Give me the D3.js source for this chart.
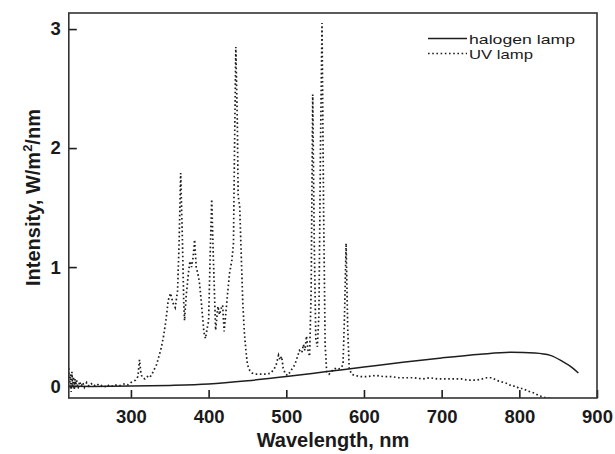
<!DOCTYPE html>
<html>
<head>
<meta charset="utf-8">
<script src="https://cdn.jsdelivr.net/npm/d3@7"></script>
<style>
  html, body { margin: 0; padding: 0; background: #fff; }
  svg { display: block; }
  text { font-family: "Liberation Sans", Arial, Helvetica, sans-serif; fill: #1a1a1a; }
</style>
</head>
<body>
<svg id="chart" width="615" height="454"></svg>
<script>
// ---- data ----
const halogenWavelength = [220, 250, 300, 350, 400, 450, 500, 550, 600, 650, 700, 750, 790, 820, 840, 856, 868, 876];
const halogenIntensity  = [0.0, -0.003, 0.0, 0.006, 0.018, 0.045, 0.08, 0.12, 0.16, 0.2, 0.237, 0.268, 0.284, 0.278, 0.258, 0.205, 0.155, 0.11];

const uvWavelength = [220, 221, 222, 223, 224, 225, 226, 227, 228, 229, 230, 232, 234, 236, 238, 240, 243, 246, 249, 252, 256, 260, 264, 268, 272, 276, 280, 284, 288, 292, 296, 300, 303, 306, 309, 311, 313, 315, 318, 321, 324, 327, 330, 333, 336, 339, 342, 345, 348, 351, 354, 357, 360, 362, 364, 366, 368, 369, 371, 374, 376, 378, 380, 382, 384, 386, 388, 390, 392, 394, 396, 398, 400, 402, 404, 406, 409, 412, 414, 416, 418, 420, 422, 424, 427, 430, 432, 433, 435, 437, 438, 440, 442, 444, 446, 448, 450, 453, 456, 460, 465, 470, 475, 480, 484, 487, 490, 492, 494, 496, 499, 502, 505, 508, 511, 514, 517, 520, 522, 524, 526, 528, 530, 532, 534, 536, 538, 540, 542, 544, 546, 548, 550, 552, 555, 558, 562, 566, 570, 573, 575, 577, 579, 581, 584, 588, 595, 605, 615, 625, 635, 645, 655, 665, 675, 685, 695, 705, 715, 725, 735, 745, 752, 758, 765, 770, 775, 780, 785, 790, 795, 800, 805, 810, 815, 820, 825, 830, 835, 840];
const uvIntensity  = [0.15, 0.02, 0.1, -0.05, 0.12, 0.0, 0.08, -0.03, 0.06, 0.01, 0.05, -0.02, 0.04, 0.0, 0.03, -0.01, 0.03, 0.0, 0.02, 0.0, 0.02, 0.0, 0.01, -0.01, 0.01, 0.0, 0.01, 0.0, 0.01, 0.02, 0.01, 0.03, 0.04, 0.05, 0.08, 0.22, 0.1, 0.07, 0.06, 0.08, 0.07, 0.1, 0.14, 0.18, 0.25, 0.32, 0.42, 0.55, 0.72, 0.78, 0.7, 0.66, 0.8, 1.2, 1.79, 1.3, 0.7, 0.55, 0.75, 0.95, 1.05, 1.0, 1.08, 1.23, 1.0, 0.95, 0.88, 0.75, 0.6, 0.45, 0.4, 0.48, 0.55, 1.1, 1.57, 1.1, 0.47, 0.67, 0.6, 0.65, 0.68, 0.46, 0.6, 0.75, 0.95, 1.06, 1.2, 1.8, 2.85, 2.2, 1.6, 1.51, 1.1, 0.7, 0.45, 0.3, 0.18, 0.13, 0.11, 0.1, 0.1, 0.1, 0.1, 0.11, 0.14, 0.18, 0.26, 0.22, 0.25, 0.15, 0.1, 0.09, 0.12, 0.15, 0.18, 0.24, 0.3, 0.28, 0.35, 0.3, 0.42, 0.3, 0.25, 0.8, 2.45, 1.2, 0.4, 0.33, 0.6, 2.0, 3.05, 1.5, 0.35, 0.12, 0.1, 0.12, 0.15, 0.14, 0.15, 0.18, 0.6, 1.2, 0.5, 0.15, 0.1, 0.09, 0.08, 0.08, 0.09, 0.08, 0.08, 0.07, 0.07, 0.07, 0.06, 0.07, 0.06, 0.06, 0.06, 0.06, 0.05, 0.05, 0.06, 0.07, 0.07, 0.05, 0.04, 0.03, 0.02, 0.0, 0.0, -0.02, -0.02, -0.04, -0.05, -0.06, -0.08, -0.09, -0.1, -0.1];

const xTicks = [300, 400, 500, 600, 700, 800, 900];
const yTicks = [0, 1, 2, 3];
const seriesNames = ["halogen lamp", "UV lamp"];

// ---- layout ----
const svg = d3.select("#chart");
const pL = 68.8, pR = 597, pT = 13, pB = 398;
const x = d3.scaleLinear().domain([220, 900]).range([pL, pR]);
const y = d3.scaleLinear().domain([-0.1, 3.135]).range([pB, pT]);
const ink = "#1e1e1e";

const halogen = halogenWavelength.map((w, i) => ({ w, v: halogenIntensity[i] }));
const uv = uvWavelength.map((w, i) => ({ w, v: uvIntensity[i] }));

svg.append("defs").append("clipPath").attr("id", "plotclip")
  .append("rect").attr("x", pL).attr("y", pT).attr("width", pR - pL).attr("height", pB - pT);

const plot = svg.append("g").attr("clip-path", "url(#plotclip)");

plot.append("path").datum(halogen)
  .attr("d", d3.line().x(d => x(d.w)).y(d => y(d.v)).curve(d3.curveMonotoneX))
  .attr("fill", "none").attr("stroke", ink).attr("stroke-width", 1.5);

plot.append("path").datum(uv)
  .attr("d", d3.line().x(d => x(d.w)).y(d => y(d.v)))
  .attr("fill", "none").attr("stroke", ink).attr("stroke-width", 1.7)
  .attr("stroke-dasharray", "1.6,2.6");

// axes
const xAxis = d3.axisBottom(x).tickValues(xTicks).tickSizeInner(-8).tickSizeOuter(0).tickPadding(12).tickFormat(d3.format("d"));
const gx = svg.append("g").attr("transform", `translate(0,${pB})`).call(xAxis);
gx.select(".domain").remove();
gx.selectAll(".tick line").attr("stroke", ink).attr("stroke-width", 1.6);
gx.selectAll(".tick text").attr("font-size", 18.5).attr("font-weight", "bold").attr("fill", "#1a1a1a")
  .style("font-family", "'Liberation Sans', Arial, sans-serif");

const yAxis = d3.axisLeft(y).tickValues(yTicks).tickSizeInner(-8).tickSizeOuter(0).tickPadding(8).tickFormat(d3.format("d"));
const gy = svg.append("g").attr("transform", `translate(${pL},0)`).call(yAxis);
gy.select(".domain").remove();
gy.selectAll(".tick line").attr("stroke", ink).attr("stroke-width", 1.6);
gy.selectAll(".tick text").attr("font-size", 18.5).attr("font-weight", "bold").attr("fill", "#1a1a1a")
  .style("font-family", "'Liberation Sans', Arial, sans-serif");

// frame
svg.append("rect").attr("x", pL).attr("y", pT).attr("width", pR - pL).attr("height", pB - pT)
  .attr("fill", "none").attr("stroke", "#333").attr("stroke-width", 1.6);

// titles
svg.append("text").attr("x", 333).attr("y", 446.5).attr("text-anchor", "middle")
  .attr("font-size", 20).attr("font-weight", "bold").text("Wavelength, nm");

const yt = svg.append("text").attr("transform", "translate(40,197.5) rotate(-90)").attr("text-anchor", "middle")
  .attr("font-size", 20).attr("font-weight", "bold");
yt.append("tspan").text("Intensity, W/m");
yt.append("tspan").attr("dy", -8).attr("font-size", 13).text("2");
yt.append("tspan").attr("dy", 8).text("/nm");

// legend
const legend = svg.append("g");
const legendRows = [
  { name: seriesNames[0], dash: null, yy: 38.5, len: 106 },
  { name: seriesNames[1], dash: "1.6,2.6", yy: 53.5, len: 64 }
];
legendRows.forEach(r => {
  const ln = legend.append("line").attr("x1", 428).attr("x2", 467).attr("y1", r.yy).attr("y2", r.yy)
    .attr("stroke", ink).attr("stroke-width", r.dash ? 1.6 : 1.3);
  if (r.dash) ln.attr("stroke-dasharray", r.dash);
  legend.append("text").attr("x", 469).attr("y", r.yy + 5).attr("font-size", 13.5)
    .attr("textLength", r.len).attr("lengthAdjust", "spacingAndGlyphs").text(r.name);
});
</script>
</body>
</html>
